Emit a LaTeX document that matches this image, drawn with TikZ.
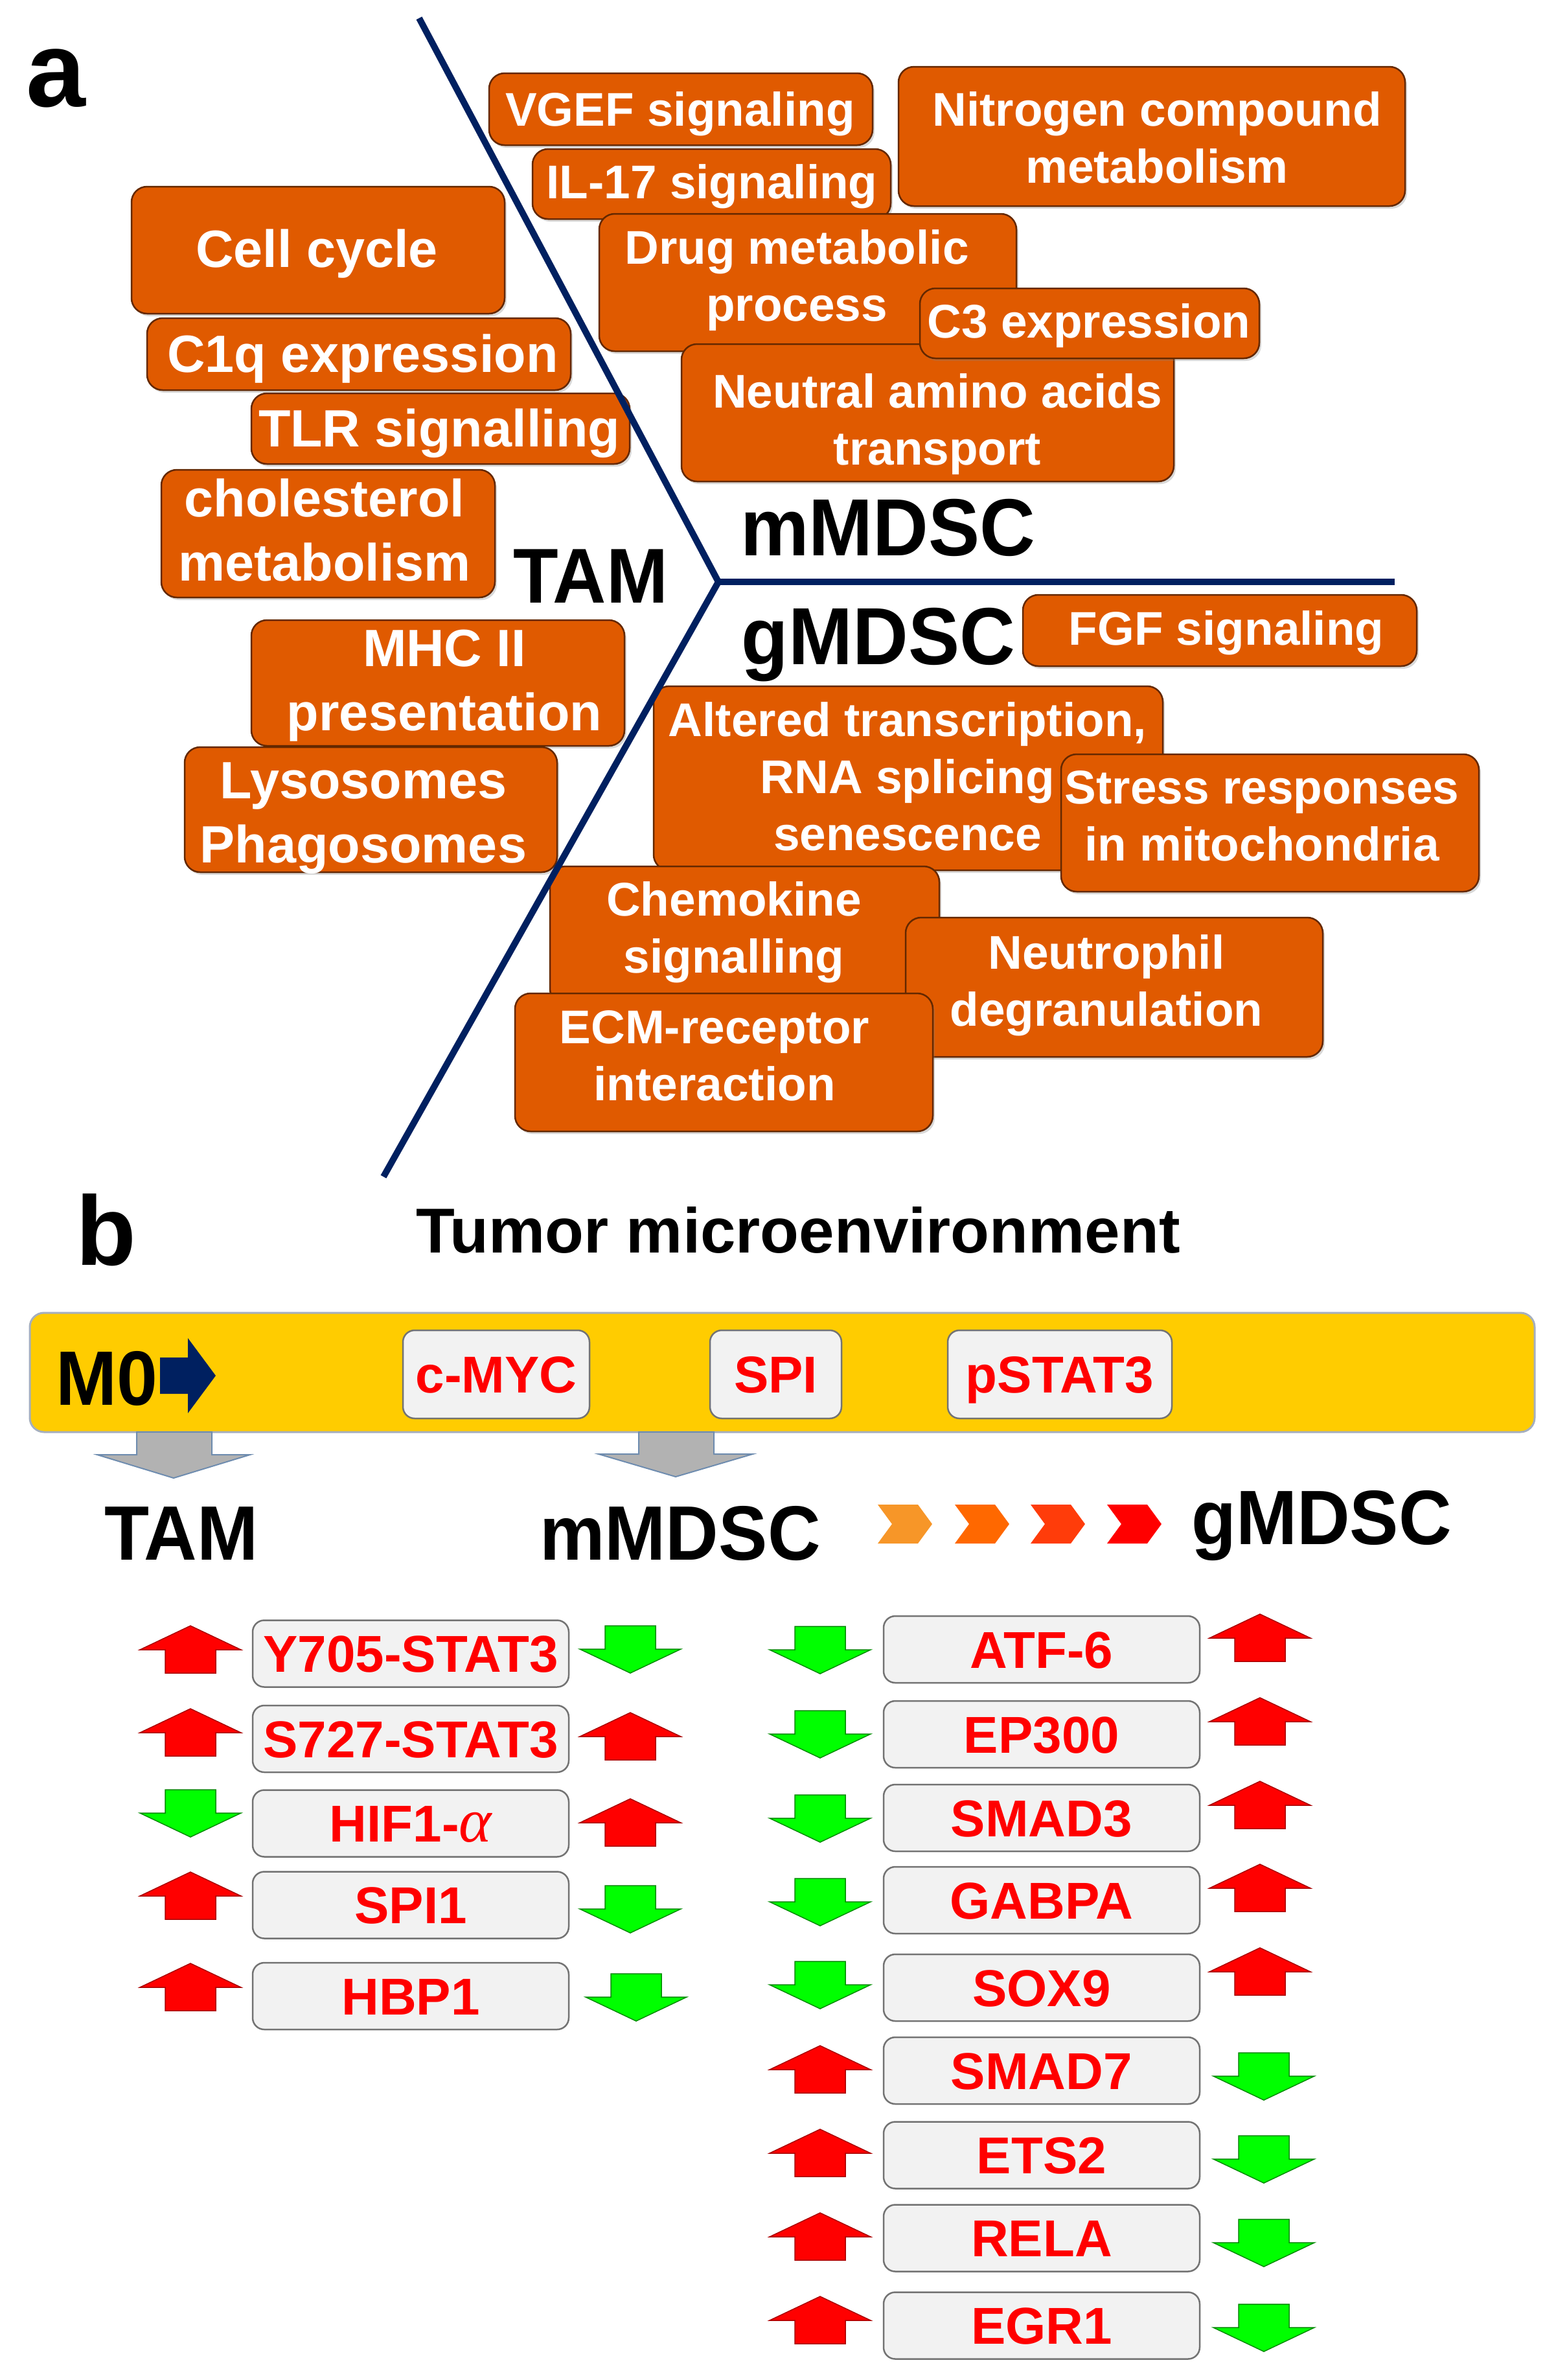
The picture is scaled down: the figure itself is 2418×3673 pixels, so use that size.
\documentclass[tikz,border=0pt]{standalone}
\usepackage{fontspec}
\setmainfont{Liberation Sans}
\newfontfamily\grk{Liberation Serif}
\usetikzlibrary{shadows}
\definecolor{navy}{RGB}{0,32,96}
\definecolor{orng}{RGB}{224,90,0}
\definecolor{obrd}{RGB}{100,40,0}
\definecolor{ybar}{RGB}{255,204,0}
\definecolor{ybrd}{RGB}{165,175,190}
\definecolor{gfill}{RGB}{242,242,242}
\definecolor{gbrd}{RGB}{115,115,115}
\definecolor{rd}{RGB}{255,0,0}
\definecolor{rdd}{RGB}{170,0,0}
\definecolor{grn}{RGB}{0,255,0}
\definecolor{grnd}{RGB}{0,140,0}
\definecolor{grayarr}{RGB}{178,178,178}
\definecolor{grayarrb}{RGB}{110,140,175}
\definecolor{chA}{RGB}{247,150,40}
\definecolor{chB}{RGB}{255,104,0}
\definecolor{chC}{RGB}{255,60,10}
\definecolor{chD}{RGB}{255,0,0}
\newcommand\mlines[1]{\begin{tabular}[t]{@{}c@{}}#1\end{tabular}}
\newcommand\cnd[1]{\scalebox{0.95}[1]{#1}}
\newcommand\galpha{{\grk\fontsize{96}{96}\mdseries\itshape\selectfont α}}
\newcommand\upArr[2]{\filldraw[uparr] (#1,#2) -- ++(78,37) -- ++(-39,0) -- ++(0,36) -- ++(-78,0) -- ++(0,-36) -- ++(-39,0) -- cycle;}
\newcommand\dnArr[2]{\filldraw[dnarr] ({#1-39},#2) -- ++(78,0) -- ++(0,36) -- ++(39,0) -- ++(-78,37) -- ++(-78,-37) -- ++(39,0) -- cycle;}
\newcommand\chev[2]{\fill[#2] (#1,2322) -- ++(62,0) -- ++(22,30) -- ++(-22,30) -- ++(-62,0) -- ++(22,-30) -- cycle;}
\tikzset{
  obox/.style={draw=obrd, fill=orng, line width=2.5pt, rounded corners=24pt, inner sep=0pt,
    drop shadow={shadow xshift=3pt, shadow yshift=-4pt, opacity=0.3}},
  otxtR/.style={text=white, anchor=base, inner sep=0pt, font=\fontsize{73}{88}\selectfont\bfseries},
  otxtL/.style={text=white, anchor=base, inner sep=0pt, font=\fontsize{81}{99}\selectfont\bfseries},
  biglbl/.style={anchor=base, inner sep=0pt, font=\fontsize{125}{125}\selectfont\bfseries},
  blbl/.style={anchor=base, inner sep=0pt, font=\fontsize{119}{119}\selectfont\bfseries},
  navyline/.style={draw=navy, line width=10pt},
  gbox/.style={draw=gbrd, fill=gfill, line width=2.5pt, rounded corners=18pt, inner sep=0pt,
    text=rd, font=\fontsize{80}{80}\selectfont\bfseries, text height=57pt, text depth=0pt,
    minimum width=488pt, minimum height=103pt},
  sbox/.style={draw=gbrd, fill=gfill, line width=2.5pt, rounded corners=18pt, inner sep=0pt,
    text=rd, font=\fontsize{80}{80}\selectfont\bfseries, text height=57pt, text depth=0pt,
    minimum height=136pt},
  uparr/.style={fill=rd, draw=rdd, line width=1.5pt},
  dnarr/.style={fill=grn, draw=grnd, line width=1.5pt},
  grayarrow/.style={fill=grayarr, draw=grayarrb, line width=2pt}
}
\begin{document}
\begin{tikzpicture}[x=1pt,y=-1pt]
\fill[white] (0,0) rectangle (2418,3673);
\path[use as bounding box] (0,0) rectangle (2418,3673);

% ---------------- panel a ----------------
\node[anchor=base west, inner sep=0pt, font=\fontsize{165}{165}\selectfont\bfseries] (alab) at (40,164) {a};

% upper right boxes
\node[obox, minimum width=592pt, minimum height=111pt] (vgef) at (1051,168.5) {};
\node[otxtR] (vgef-t) at (1050,194) {VGEF signaling};
\node[obox, minimum width=553pt, minimum height=108pt] (il17) at (1098.5,284) {};
\node[otxtR] (il17-t) at (1099,306) {IL-17 signaling};
\node[obox, minimum width=782pt, minimum height=215pt] (nitro) at (1778,210.5) {};
\node[otxtR] (nitro-t) at (1786,194) {\mlines{Nitrogen compound\\metabolism}};
\node[obox, minimum width=644pt, minimum height=212pt] (drug) at (1247,436) {};
\node[otxtR] (drug-t) at (1230,407) {\mlines{Drug metabolic\\process}};
\node[obox, minimum width=760pt, minimum height=212pt] (neutral) at (1432,637) {};
\node[otxtR] (neutral-t) at (1447,629) {\mlines{Neutral amino acids\\transport}};
\node[obox, minimum width=524pt, minimum height=108pt] (c3) at (1682,499) {};
\node[otxtR] (c3-t) at (1681,521) {C3 expression};

% left boxes
\node[obox, minimum width=576pt, minimum height=196pt] (cellc) at (491,386) {};
\node[otxtL] (cellc-t) at (489,412) {Cell cycle};
\node[obox, minimum width=654pt, minimum height=111pt] (c1q) at (554,546.5) {};
\node[otxtL] (c1q-t) at (560,574) {C1q expression};
\node[obox, minimum width=584pt, minimum height=109pt] (tlr) at (680,661.5) {};
\node[otxtL] (tlr-t) at (678,689) {TLR signalling};
\node[obox, minimum width=515pt, minimum height=197pt] (chol) at (506.5,823.5) {};
\node[otxtL] (chol-t) at (501,797) {\mlines{cholesterol\\metabolism}};
\node[obox, minimum width=576pt, minimum height=194pt] (mhc) at (676,1054) {};
\node[otxtL] (mhc-t) at (686,1028) {\mlines{MHC II\\presentation}};
\node[obox, minimum width=575pt, minimum height=193pt] (lyso) at (572.5,1249.5) {};
\node[otxtL] (lyso-t) at (561,1232) {\mlines{Lysosomes\\Phagosomes}};

% lower right boxes
\node[obox, minimum width=608pt, minimum height=110pt] (fgf) at (1883,973) {};
\node[otxtR] (fgf-t) at (1893,995) {FGF signaling};
\node[obox, minimum width=786pt, minimum height=284pt] (alt) at (1402,1201) {};
\node[otxtR] (alt-t) at (1401,1136) {\mlines{Altered transcription,\\RNA splicing\\senescence}};
\node[obox, minimum width=645pt, minimum height=212pt] (stress) at (1960.5,1270) {};
\node[otxtR] (stress-t) at (1948,1240) {\mlines{Stress responses\\in mitochondria}};
\node[obox, minimum width=601pt, minimum height=213pt] (chemo) at (1149.5,1443.5) {};
\node[otxtR] (chemo-t) at (1133,1413) {\mlines{Chemokine\\signalling}};
\node[obox, minimum width=644pt, minimum height=215pt] (neutro) at (1720,1523.5) {};
\node[otxtR] (neutro-t) at (1708,1495) {\mlines{Neutrophil\\degranulation}};
\node[obox, minimum width=645pt, minimum height=213pt] (ecm) at (1117.5,1639.5) {};
\node[otxtR] (ecm-t) at (1103,1610) {\mlines{ECM-receptor\\interaction}};

% separating lines
\coordinate (ltop) at (647,28);
\coordinate (vtx) at (1109,898);
\coordinate (lbot) at (592,1816);
\coordinate (lright) at (2153,898);
\draw[navyline] (ltop) -- (vtx) -- (lbot);
\draw[navyline] (vtx) -- (lright);

\node[biglbl] (mm-a) at (1371,857) {\cnd{mMDSC}};
\node[biglbl, font=\fontsize{120}{120}\selectfont\bfseries] (tam-a) at (912,930) {\cnd{TAM}};
\node[biglbl] (gm-a) at (1356,1025) {\cnd{gMDSC}};

% ---------------- panel b ----------------
\node[anchor=base west, inner sep=0pt, font=\fontsize{152}{152}\selectfont\bfseries] (blab) at (117,1952) {b};
\node[anchor=base, inner sep=0pt, font=\fontsize{98}{98}\selectfont\bfseries] (tme) at (1232,1933) {Tumor microenvironment};

\node[draw=ybrd, fill=ybar, line width=3pt, rounded corners=22pt, minimum width=2323pt, minimum height=184pt, inner sep=0pt] (bar) at (1207.5,2118) {};
\node[anchor=base west, inner sep=0pt, font=\fontsize{119}{119}\selectfont\bfseries] (m0) at (86,2168) {\cnd{M0}};
\fill[navy] (247,2095) -- (290,2095) -- (290,2065) -- (333,2123) -- (290,2181) -- (290,2151) -- (247,2151) -- cycle;

\node[sbox, minimum width=288pt] (cmyc) at (766,2121) {c-MYC};
\node[sbox, minimum width=203pt] (spi) at (1197.5,2121) {SPI};
\node[sbox, minimum width=346pt] (pstat) at (1636,2121) {pSTAT3};

\filldraw[grayarrow] (211,2210) -- (327,2210) -- (327,2245) -- (386,2245) -- (268,2281) -- (150,2245) -- (211,2245) -- cycle;
\filldraw[grayarrow] (986,2210) -- (1102,2210) -- (1102,2244) -- (1162,2244) -- (1043,2279) -- (924,2244) -- (986,2244) -- cycle;

\node[blbl] (tam-b) at (280,2407) {\cnd{TAM}};
\node[blbl] (mm-b) at (1050,2407) {\cnd{mMDSC}};
\node[blbl] (gm-b) at (2040,2383) {\cnd{gMDSC}};
\chev{1355}{chA}
\chev{1474}{chB}
\chev{1591}{chC}
\chev{1709}{chD}

% left gene column
\node[gbox] (y705) at (634,2552) {Y705-STAT3};
\node[gbox] (s727) at (634,2683.5) {S727-STAT3};
\node[gbox] (hif) at (634,2814) {HIF1-\galpha};
\node[gbox] (spi1) at (634,2940) {SPI1};
\node[gbox] (hbp1) at (634,3080.5) {HBP1};
\upArr{294}{2509}  \dnArr{973}{2509}
\upArr{294}{2637}  \upArr{973}{2643}
\dnArr{294}{2762}  \upArr{973}{2776}
\upArr{294}{2889}  \dnArr{973}{2910}
\upArr{294}{3030}  \dnArr{982}{3046}

% right gene column
\node[gbox] (atf6) at (1608,2545.5) {ATF-6};
\node[gbox] (ep300) at (1608,2676.5) {EP300};
\node[gbox] (smad3) at (1608,2805.5) {SMAD3};
\node[gbox] (gabpa) at (1608,2932.5) {GABPA};
\node[gbox] (sox9) at (1608,3067.5) {SOX9};
\node[gbox] (smad7) at (1608,3195.5) {SMAD7};
\node[gbox] (ets2) at (1608,3326) {ETS2};
\node[gbox] (rela) at (1608,3454) {RELA};
\node[gbox] (egr1) at (1608,3589) {EGR1};
\dnArr{1266}{2510} \upArr{1945}{2491}
\dnArr{1266}{2640} \upArr{1945}{2620}
\dnArr{1266}{2770} \upArr{1945}{2749}
\dnArr{1266}{2899} \upArr{1945}{2877}
\dnArr{1266}{3027} \upArr{1945}{3006}
\upArr{1266}{3157} \dnArr{1951}{3168}
\upArr{1266}{3286} \dnArr{1951}{3296}
\upArr{1266}{3415} \dnArr{1951}{3425}
\upArr{1266}{3544} \dnArr{1951}{3556}
\end{tikzpicture}
\end{document}
